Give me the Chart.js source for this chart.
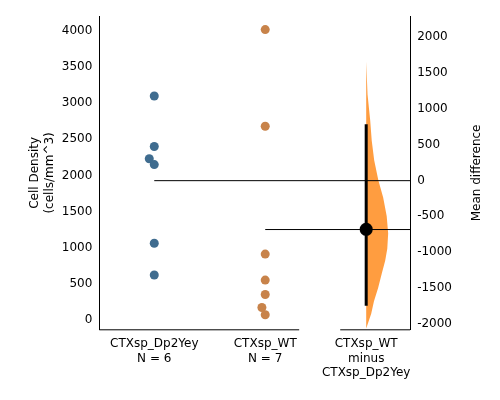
<!DOCTYPE html>
<html>
<head>
<script src="https://cdn.jsdelivr.net/npm/chart.js@4"></script>
<style>body{margin:0;background:#fff}</style>
</head>
<body>
<canvas id="myChart" width="500" height="400"></canvas>
<script>
// Group values
const groupNames = ["CTXsp_Dp2Yey", "CTXsp_WT"];
const groupN = [6, 7];
const dp2yeyValues = [3100, 2400, 2230, 2150, 1060, 620];
const dp2yeyJitter = [0, 0, -0.045, 0, 0, 0];
const wtValues = [4020, 2680, 910, 550, 350, 170, 70];
const wtJitter = [0, 0, 0, 0, 0, -0.03, 0];
const dp2yeyMean = 1927;
const wtMean = 1250;
// Mean difference and its CI (right axis)
const meanDiff = -680;
const ciLow = -1745;
const ciHigh = 780;
// Bootstrap density: diff values and half-widths (x units)
const violinY = [1650, 1200, 837, 550, 279, 0, -237, -500, -739, -950, -1116, -1300, -1492, -1680, -1855, -2060];
const violinW = [0, 0.012, 0.036, 0.05, 0.072, 0.11, 0.153, 0.185, 0.198, 0.19, 0.171, 0.14, 0.108, 0.07, 0.045, 0];
const diffX = 1.91;
const leftTicks = [0, 500, 1000, 1500, 2000, 2500, 3000, 3500, 4000];
const rightTicks = [-2000, -1500, -1000, -500, 0, 500, 1000, 1500, 2000];

const violinPlugin = {
    id: 'violin',
    beforeDatasetsDraw(chart) {
        const ctx = chart.ctx;
        const xs = chart.scales.x, ys = chart.scales.y2;
        ctx.save();
        ctx.beginPath();
        ctx.moveTo(xs.getPixelForValue(diffX), ys.getPixelForValue(violinY[0]));
        violinY.forEach((v, i) => {
            ctx.lineTo(xs.getPixelForValue(diffX + violinW[i]), ys.getPixelForValue(v));
        });
        ctx.lineTo(xs.getPixelForValue(diffX), ys.getPixelForValue(violinY[violinY.length - 1]));
        ctx.closePath();
        ctx.fillStyle = 'rgba(255,140,30,0.85)';
        ctx.fill();
        ctx.restore();
    },
    afterDraw(chart) {
        // right axis title, reading bottom to top
        const ctx = chart.ctx;
        const ys = chart.scales.y2;
        ctx.save();
        ctx.translate(477, (ys.top + ys.bottom) / 2);
        ctx.rotate(-Math.PI / 2);
        ctx.font = '12px "DejaVu Sans"';
        ctx.fillStyle = '#000';
        ctx.textAlign = 'center';
        ctx.textBaseline = 'middle';
        ctx.fillText('Mean difference', 0, 0);
        ctx.restore();
    }
};

const ctx = document.getElementById('myChart').getContext('2d');
const black = '#000';
new Chart(ctx, {
    type: 'scatter',
    data: {
        datasets: [{
            data: dp2yeyValues.map((v, i) => ({x: dp2yeyJitter[i], y: v})),
            backgroundColor: '#3f6c8f', borderWidth: 0, pointRadius: 4.5, yAxisID: 'y'
        }, {
            data: wtValues.map((v, i) => ({x: 1 + wtJitter[i], y: v})),
            backgroundColor: '#c8834a', borderWidth: 0, pointRadius: 4.5, yAxisID: 'y'
        }, {
            type: 'line', data: [{x: 0, y: dp2yeyMean}, {x: 2.306, y: dp2yeyMean}],
            borderColor: black, borderWidth: 1, pointRadius: 0, yAxisID: 'y'
        }, {
            type: 'line', data: [{x: 1, y: wtMean}, {x: 2.306, y: wtMean}],
            borderColor: black, borderWidth: 1, pointRadius: 0, yAxisID: 'y'
        }, {
            type: 'line', data: [{x: diffX, y: ciLow}, {x: diffX, y: ciHigh}],
            borderColor: black, borderWidth: 3, pointRadius: 0, yAxisID: 'y2'
        }, {
            data: [{x: diffX, y: meanDiff}],
            backgroundColor: black, pointRadius: 6.5, yAxisID: 'y2'
        }, {
            // bottom axis segments
            type: 'line', data: [{x: -0.495, y: -139}, {x: 1.306, y: -139}],
            borderColor: black, borderWidth: 1, pointRadius: 0, yAxisID: 'y', clip: false
        }, {
            type: 'line', data: [{x: 1.676, y: -139}, {x: 2.306, y: -139}],
            borderColor: black, borderWidth: 1, pointRadius: 0, yAxisID: 'y', clip: false
        }]
    },
    options: {
        responsive: false,
        animation: false,
        layout: {padding: {top: 16, right: 45, left: 26, bottom: 17}},
        plugins: {legend: {display: false}, tooltip: {enabled: false}},
        scales: {
            x: {
                type: 'linear', min: -0.495, max: 2.306,
                grid: {display: false, drawTicks: true, tickColor: black, tickLength: 4},
                border: {display: false},
                afterBuildTicks: axis => { axis.ticks = [{value: 0}, {value: 1}, {value: diffX}]; },
                ticks: {
                    color: black, font: {family: 'DejaVu Sans', size: 12},
                    maxRotation: 0, autoSkip: false,
                    callback: v => v === 0 ? [groupNames[0], 'N = ' + groupN[0]]
                        : v === 1 ? [groupNames[1], 'N = ' + groupN[1]]
                        : [groupNames[1], 'minus', groupNames[0]]
                }
            },
            y: {
                position: 'left', min: -139, max: 4208,
                grid: {display: false, drawTicks: true, tickColor: black, tickLength: 4},
                border: {display: true, color: black},
                afterBuildTicks: axis => { axis.ticks = leftTicks.map(v => ({value: v})); },
                ticks: {color: black, font: {family: 'DejaVu Sans', size: 12}, callback: v => String(v)},
                title: {display: true, text: ['Cell Density', '(cells/mm^3)'], color: black,
                    font: {family: 'DejaVu Sans', size: 12}, padding: 2}
            },
            y2: {
                position: 'right', min: -2078, max: 2287,
                grid: {display: false, drawTicks: true, tickColor: black, tickLength: 4},
                border: {display: true, color: black},
                afterBuildTicks: axis => { axis.ticks = rightTicks.map(v => ({value: v})); },
                ticks: {color: black, font: {family: 'DejaVu Sans', size: 12}, callback: v => String(v)}
            }
        }
    },
    plugins: [violinPlugin]
});
</script>
</body>
</html>
